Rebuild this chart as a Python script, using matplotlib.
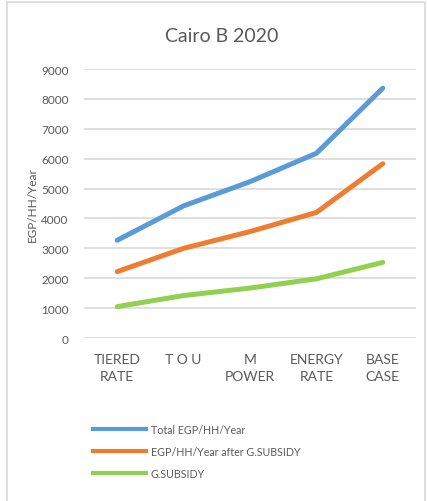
import matplotlib.pyplot as plt
from matplotlib.lines import Line2D

# Scenario costs per household per year
categories = ["TIERED\nRATE", "T O U", "M\nPOWER", "ENERGY\nRATE", "BASE\nCASE"]
total = [3270, 4420, 5230, 6180, 8360]
after_subsidy = [2220, 3000, 3560, 4200, 5830]
subsidy = [1050, 1420, 1670, 1980, 2530]

series = [
    ("Total EGP/HH/Year", total, "#5B9BD5"),
    ("EGP/HH/Year after G.SUBSIDY", after_subsidy, "#ED7D31"),
    ("G.SUBSIDY", subsidy, "#92D050"),
]

plt.rcParams['font.family'] = ['Lato', 'DejaVu Sans']

W, H = 428, 502
fig = plt.figure(figsize=(W / 100, H / 100), dpi=100)

# chart frame
frame = plt.Rectangle((6.5 / W, -0.01), (425 - 6.5) / W, (H - 2.5) / H + 0.01,
                      transform=fig.transFigure, fill=False,
                      edgecolor="#D9D9D9", linewidth=1.2)
fig.patches.append(frame)

ax = fig.add_axes([84 / W, (H - 339) / H, (416 - 84) / W, (339 - 70) / H])

x = range(len(categories))
for label, values, color in series:
    ax.plot(x, values, color=color, linewidth=3.6, solid_capstyle="round",
            solid_joinstyle="round", label=label, zorder=3)

ax.set_xlim(-0.5, len(categories) - 0.5)
ax.set_ylim(0, 9000)
ax.set_yticks(range(0, 9001, 1000))
ax.yaxis.grid(True, color="#D9D9D9", linewidth=1.2)
ax.set_axisbelow(True)
for s in ax.spines.values():
    s.set_visible(False)
ax.tick_params(axis="both", length=0, colors="#595959")
ax.tick_params(axis="y", labelsize=8.5, pad=11)
ax.tick_params(axis="x", labelsize=10, pad=11)
ax.set_xticks(list(x))
ax.set_xticklabels(categories, linespacing=1.5)

fig.text(32 / W, 1 - 205 / H, "EGP/HH/Year", rotation=90, ha="center",
         va="center", fontsize=8.5, color="#595959")

fig.text(222 / W, 1 - 37 / H, "Cairo B 2020", ha="center", va="center",
         fontsize=14, color="#595959")

handles = [Line2D([], [], color=c, linewidth=3) for _, _, c in series]
fig.legend(handles, [s[0] for s in series], loc="upper left",
           bbox_to_anchor=(83 / W, 1 - 415 / H), frameon=False,
           fontsize=7.7, handlelength=5.0, handletextpad=0.45,
           labelspacing=1.05, labelcolor="#595959")

fig.savefig("out.png", dpi=100)
